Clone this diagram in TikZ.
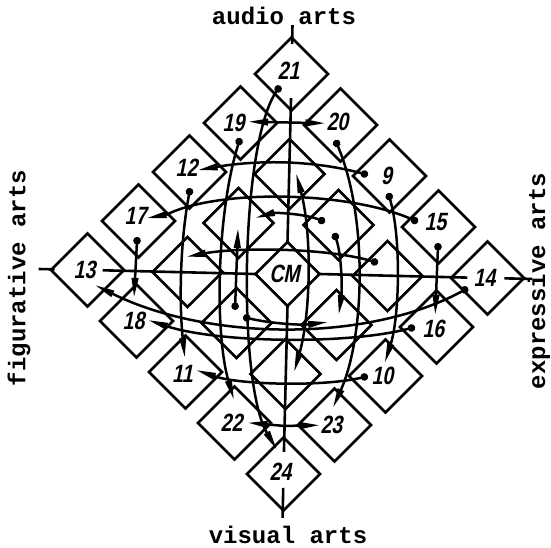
\documentclass[tikz,border=0pt]{standalone}
\usepackage{fontspec}
\newfontfamily\hand[FakeStretch=0.78,FakeSlant=0.2]{Liberation Sans}
\newfontfamily\typew{Liberation Mono}
\usetikzlibrary{shapes.geometric,arrows.meta}
\tikzset{
  dia/.style={draw, shape=diamond, inner sep=0pt, outer sep=0pt, minimum width=73pt, minimum height=73pt, line width=2.7pt},
  idia/.style={dia, minimum width=70pt, minimum height=70pt},
  cdia/.style={dia, minimum width=64pt, minimum height=64pt},
  num/.style={font=\hand\bfseries\fontsize{25}{25}\selectfont, inner sep=0pt, xshift=-3pt},
  art/.style={font=\typew\bfseries\fontsize{24}{24}\selectfont, inner sep=0pt},
  axis/.style={line width=2.6pt},
  conn/.style={line width=2.5pt},
  arr/.style={conn, -{Triangle[length=20pt,width=6.5pt]}},
  dotarr/.style={conn, {Circle[length=7.5pt]}-{Triangle[length=20pt,width=6.5pt]}},
  dblarr/.style={conn, {Triangle[length=20pt,width=6.5pt]}-{Triangle[length=20pt,width=6.5pt]}},
}
\begin{document}
\begin{tikzpicture}[x=1pt,y=-1pt]
\useasboundingbox (0,0) rectangle (551,548);
\node[art] (audio) at (284,16) {audio arts};
\node[art] (visual) at (288,535) {visual arts};
\node[art, rotate=90] (figur) at (19,278) {figurative arts};
\node[art, rotate=90] (expr) at (539,281) {expressive arts};

\begin{scope}[shift={(287.5,274)}, rotate=-1.15]
% diamonds
\node[dia,label={[name=l21,num,yshift=3pt]center:21}] (d21) at (0,-200) {};
\node[dia,label={[name=l19,num,xshift=-4pt]center:19}] (d19) at (-50,-150) {};
\node[dia,label={[name=l20,num,yshift=3pt]center:20}] (d20) at (50,-150) {};
\node[dia,label={[name=l12,num,yshift=4pt]center:12}] (d12) at (-100,-100) {};
\node[idia] (dT) at (0,-100) {};
\node[dia,label={[name=l9,num]center:9}] (d9) at (100,-100) {};
\node[dia,label={[name=l17,num,yshift=5pt]center:17}] (d17) at (-150,-50) {};
\node[idia] (dTL) at (-50,-50) {};
\node[idia] (dTR) at (50,-50) {};
\node[dia,label={[name=l15,num,yshift=5pt]center:15}] (d15) at (150,-50) {};
\node[dia,label={[name=l13,num]center:13}] (d13) at (-200,0) {};
\node[idia] (dL) at (-100,0) {};
\node[cdia,label={[name=lcm,num]center:CM}] (cm) at (0,0) {};
\node[idia] (dR) at (100,0) {};
\node[dia,label={[name=l14,num]center:14}] (d14) at (200,0) {};
\node[dia,label={[name=l18,num]center:18}] (d18) at (-150,50) {};
\node[idia] (dBL) at (-50,50) {};
\node[idia] (dBR) at (50,50) {};
\node[dia,label={[name=l16,num,yshift=-2pt]center:16}] (d16) at (150,50) {};
\node[dia,label={[name=l11,num,yshift=-2pt]center:11}] (d11) at (-100,100) {};
\node[idia] (dB) at (0,100) {};
\node[dia,label={[name=l10,num]center:10}] (d10) at (100,100) {};
\node[dia,label={[name=l22,num]center:22}] (d22) at (-50,150) {};
\node[dia,label={[name=l23,num]center:23}] (d23) at (50,150) {};
\node[dia,label={[name=l24,num,yshift=2pt]center:24}] (d24) at (0,200) {};

% axes and ticks
\coordinate (t21) at (0,-249);
\coordinate (i21) at (0,-230);
\coordinate (a21) at (0,-176);
\coordinate (a24) at (0,178);
\coordinate (i24) at (0,214);
\coordinate (t24) at (0,244);
\coordinate (t13) at (-249,0);
\coordinate (i13) at (-233,0);
\coordinate (a13) at (-185,0);
\coordinate (a14) at (180,0);
\coordinate (i14) at (217,0);
\coordinate (t14) at (245,0);
\draw[axis] (t21) -- (i21);
\draw[axis] (a21) -- (cm.north);
\draw[axis] (cm.south) -- (a24);
\draw[axis] (i24) -- (t24);
\draw[axis] (t13) -- (i13);
\draw[axis] (a13) -- (cm.west);
\draw[axis] (cm.east) -- (a14);
\draw[axis] (i14) -- (t14);

% horizontal branches from the vertical axis
\coordinate (x1920) at (0,-151.5);
\coordinate (e19) at (-42.5,-151.5);
\coordinate (e20) at (35,-151.5);
\draw[arr] (x1920) -- (e19);
\draw[arr] (x1920) -- (e20);
\coordinate (x2223) at (0,152);
\coordinate (e22h) at (-37,149.5);
\coordinate (e23h) at (35.5,150.5);
\draw[arr] (x2223) -- (e22h);
\draw[arr] (x2223) -- (e23h);

% vertical connectors
\coordinate (s21) at (-11,-188);
\coordinate (e24) at (-7,176);
\draw[dotarr] (s21) .. controls (-50,-130) and (-48,110) .. (e24);
\coordinate (s19) at (-50,-135);
\coordinate (e22) at (-51,127);
\draw[dotarr] (s19) .. controls (-72,-60) and (-72,60) .. (e22);
\coordinate (s20) at (45,-135);
\coordinate (e23) at (48,133);
\draw[dotarr] (s20) .. controls (79,-60) and (79,60) .. (e23);
\coordinate (s12) at (-99,-84);
\coordinate (e11) at (-101,86);
\draw[dotarr] (s12) .. controls (-108,-30) and (-108,30) .. (e11);
\coordinate (s9) at (99,-83);
\coordinate (e10) at (99,87);
\draw[dotarr] (s9) .. controls (113,-40) and (113,40) .. (e10);
\coordinate (s17) at (-151,-34);
\coordinate (e18) at (-153,27);
\draw[dotarr] (s17) -- (e18);
\coordinate (s15) at (150,-34);
\coordinate (e16) at (148.5,38);
\draw[dotarr] (s15) -- (e16);
\coordinate (sTR) at (45.7,-42);
\coordinate (eBR) at (52,40);
\draw[dotarr] (sTR) .. controls (54,-20) and (55,15) .. (eBR);
\coordinate (sBL) at (-51.8,37);
\coordinate (eTL) at (-50.4,-45);
\draw[dotarr] (sBL) -- (eTL);
\coordinate (eT) at (6.5,-101);
\coordinate (eB) at (8.5,98);
\draw[dblarr] (eT) .. controls (24,-40) and (24,40) .. (eB);

% horizontal arcs
\coordinate (s9b) at (78.5,-100.6);
\coordinate (e12) at (-92,-102);
\draw[dotarr] (s9b) .. controls (25,-114) and (-30,-114) .. (e12);
\coordinate (s15b) at (129.5,-54.6);
\coordinate (k17) at (-122,-57);
\coordinate (e17) at (-142,-53);
\draw[dotarr] (s15b) .. controls (60,-84) and (-70,-84) .. (k17) -- (e17);
\coordinate (sR) at (90.3,-12.8);
\coordinate (eL) at (-101.8,-15);
\draw[dotarr] (sR) .. controls (40,-27) and (-50,-26) .. (eL);
\coordinate (sTR2) at (36.5,-52.75);
\coordinate (eTL2) at (-33.6,-55.35);
\draw[dotarr] (sTR2) .. controls (15,-61) and (-15,-61) .. (eTL2);
\coordinate (sBL2) at (-43.6,43.9);
\coordinate (eBR2) at (41.5,47.2);
\draw[dotarr] (sBL2) .. controls (-15,50) and (15,51) .. (eBR2);
\coordinate (s14) at (180.8,10.4);
\coordinate (e13) at (-192.3,14.85);
\draw[dotarr] (s14) .. controls (80,68) and (-80,68) .. (e13);
\coordinate (s16) at (128.6,50.45);
\coordinate (e18b) at (-138.6,48.8);
\draw[dotarr] (s16) .. controls (60,70) and (-70,70) .. (e18b);
\coordinate (s10) at (82.5,100.4);
\coordinate (e11b) at (-89.6,97.8);
\draw[dotarr] (s10) .. controls (40,112) and (-45,112) .. (e11b);
\end{scope}
\end{tikzpicture}
\end{document}
